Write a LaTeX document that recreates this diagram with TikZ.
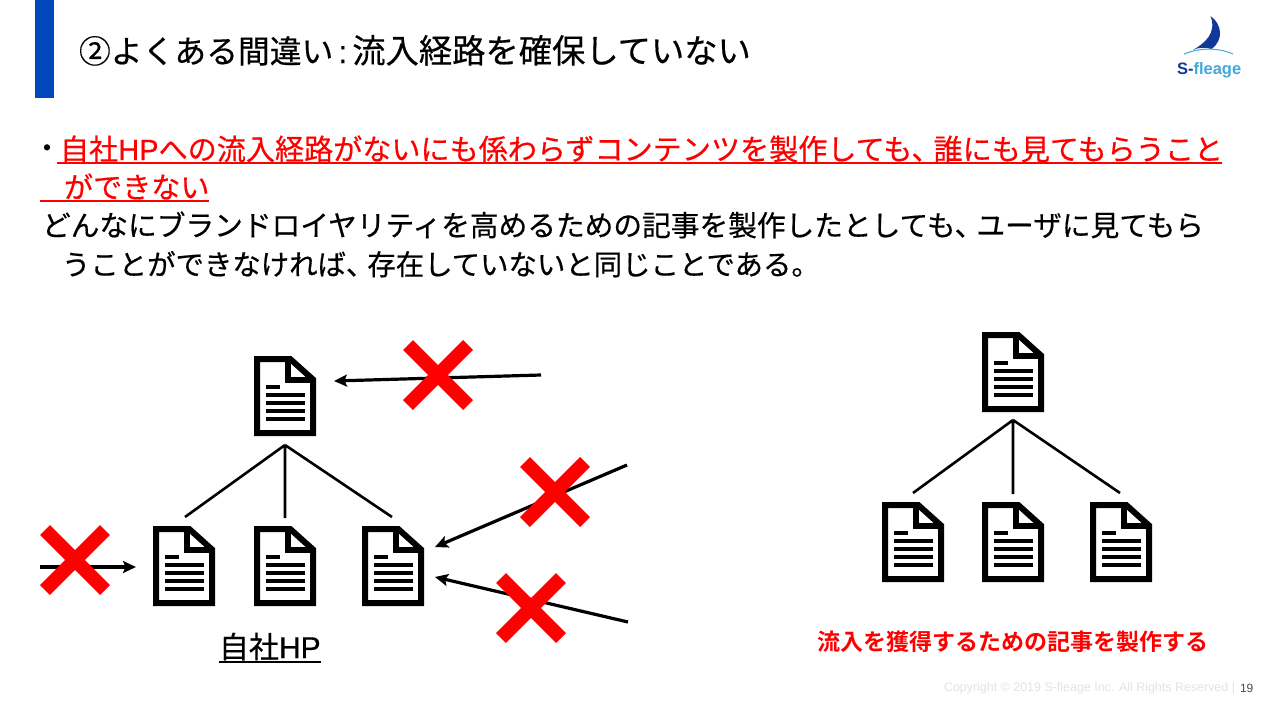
\documentclass[tikz,border=0pt]{standalone}
\usepackage{fontspec}
\setmainfont[RawFeature={embolden=0.45}]{Noto Sans CJK JP}
\newfontfamily\boldjp[BoldFont={Noto Sans CJK JP Bold}]{Noto Sans CJK JP}
\newfontfamily\lsans{Liberation Sans}
\newfontfamily\lsansb[RawFeature={embolden=0.45}]{Liberation Sans}
\usetikzlibrary{arrows.meta}
\definecolor{barblue}{HTML}{0047BB}
\definecolor{logodark}{HTML}{12389A}
\definecolor{logolight}{HTML}{3FA9DC}
\newcommand{\tk}{\hspace{-7pt}}
\tikzset{
  x=1pt,y=-1pt,
  txt/.style={anchor=base west,inner sep=0pt,outer sep=0pt},
  docnode/.style={minimum width=62pt,minimum height=80pt,inner sep=0pt,outer sep=0pt},
  docicon/.pic={
    \draw[line width=6pt,miter limit=10] (-28,-37)--(5.2,-37)--(28,-16.5)--(28,37)--(-28,37)--cycle;
    \draw[line width=5.4pt] (3,-37)--(3,-16)--(28,-16);
    \draw[line width=4pt] (-18.7,-9)--(-5.3,-9);
    \foreach \yy in {-0.7,7.3,15.3,23.3}{\draw[line width=4pt] (-18.7,\yy)--(19.7,\yy);}
  },
  link/.style={line width=2.6pt},
  arrowline/.style={line width=3.2pt,-{Stealth[length=13pt,width=12pt,inset=2.5pt]}},
  crossline/.style={line width=14pt,red},
  uline/.style={line width=2pt},
}
\newcommand{\docicon}[3]{\node[docnode] (#1) at (#2,#3) {}; \pic at (#1) {docicon};}
\newcommand{\crossmark}[2]{\draw[crossline] (#1-30,#2-30)--(#1+30,#2+30) (#1-30,#2+30)--(#1+30,#2-30);}
\begin{document}
\begin{tikzpicture}
\useasboundingbox (0,0) rectangle (1276,715);
\fill[white] (0,0) rectangle (1276,715);
\fill[barblue] (35,0) rectangle (54,98);
\node[txt,font=\fontsize{31.8}{38}\selectfont] (title) at (79,63) {②よくある間違い\hspace{5pt}{\lsansb\fontsize{32}{38}\selectfont :}\hspace{5pt}{\fontsize{33.3}{38}\selectfont 流入経路を確保していない}};
% logo
\fill[logodark] (1210.5,16) .. controls (1222,24) and (1224,40) .. (1211.5,49) .. controls (1205,47) and (1198,47.5) .. (1193,50) .. controls (1205,43) and (1217,33) .. cycle;
\draw[logolight,line width=1pt] (1184,54) .. controls (1200,47.5) and (1218,47.5) .. (1233,54);
\node[txt,font=\lsans\bfseries\fontsize{16.5}{20}\selectfont] (logo) at (1177,74) {\textcolor{logodark}{S-}\textcolor{logolight}{fleage}};
% body
\node[txt,font=\fontsize{28}{34}\selectfont] (dot) at (33,158) {・};
\node[txt,text=red,font=\fontsize{29.1}{34}\selectfont] (l1) at (60,160) {自社{\lsansb HP}への流入経路がないにも係わらずコンテンツを製作しても、\tk 誰にも見てもらうこと};
\draw[uline,red] (57,163)--(1222,163);
\node[txt,text=red,font=\fontsize{29.1}{34}\selectfont] (l2) at (64,198) {ができない};
\draw[uline,red] (40,201)--(209,201);
\node[txt,font=\fontsize{28.7}{34}\selectfont] (l3) at (42,236) {どんなにブランドロイヤリティを高めるための記事を製作したとしても、\tk ユーザに見てもら};
\node[txt,font=\fontsize{28.4}{34}\selectfont] (l4) at (62,275) {うことができなければ、\tk 存在していないと同じことである。};
% left tree
\docicon{a0}{285}{396}
\docicon{a1}{184}{566}
\docicon{a2}{285}{566}
\docicon{a3}{393}{566}
\coordinate (aa) at (285,445);
\coordinate (a1t) at (185,517);
\coordinate (a2t) at (285,518);
\coordinate (a3t) at (392,517);
\draw[link] (aa)--(a1t) (aa)--(a2t) (aa)--(a3t);
% arrows
\coordinate (s0) at (541,375); \coordinate (t0) at (334,381);
\coordinate (s1) at (627,465); \coordinate (t1) at (435,547);
\coordinate (s2) at (628,622); \coordinate (t2) at (435,577);
\coordinate (s3) at (40,567);  \coordinate (t3) at (136,567);
\draw[arrowline] (s0)--(t0);
\draw[arrowline] (s1)--(t1);
\draw[arrowline] (s2)--(t2);
\draw[arrowline] (s3)--(t3);
\crossmark{438}{375}
\crossmark{555}{492}
\crossmark{531}{608}
\crossmark{75}{560}
\node[txt,font=\fontsize{30}{34}\selectfont] (hp) at (219,658) {自社{\lsansb HP}};
\draw[uline] (219,662)--(321,662);
% right tree
\docicon{b0}{1013}{372}
\docicon{b1}{913}{542}
\docicon{b2}{1013}{542}
\docicon{b3}{1121}{542}
\coordinate (bb) at (1013,420);
\coordinate (b1t) at (913,493);
\coordinate (b2t) at (1013,494);
\coordinate (b3t) at (1120,493);
\draw[link] (bb)--(b1t) (bb)--(b2t) (bb)--(b3t);
\node[txt,text=red,font=\boldjp\bfseries\fontsize{23}{28}\selectfont] (cap) at (817,650) {流入を獲得するための記事を製作する};
% footer
\node[txt,text=black!11,font=\lsans\fontsize{12.45}{14}\selectfont] (copy) at (944,691) {Copyright © 2019 S-fleage Inc. All Rights Reserved |};
\node[txt,text=black!70,font=\lsans\fontsize{12}{14}\selectfont] (pg) at (1240,692) {19};
\end{tikzpicture}
\end{document}
